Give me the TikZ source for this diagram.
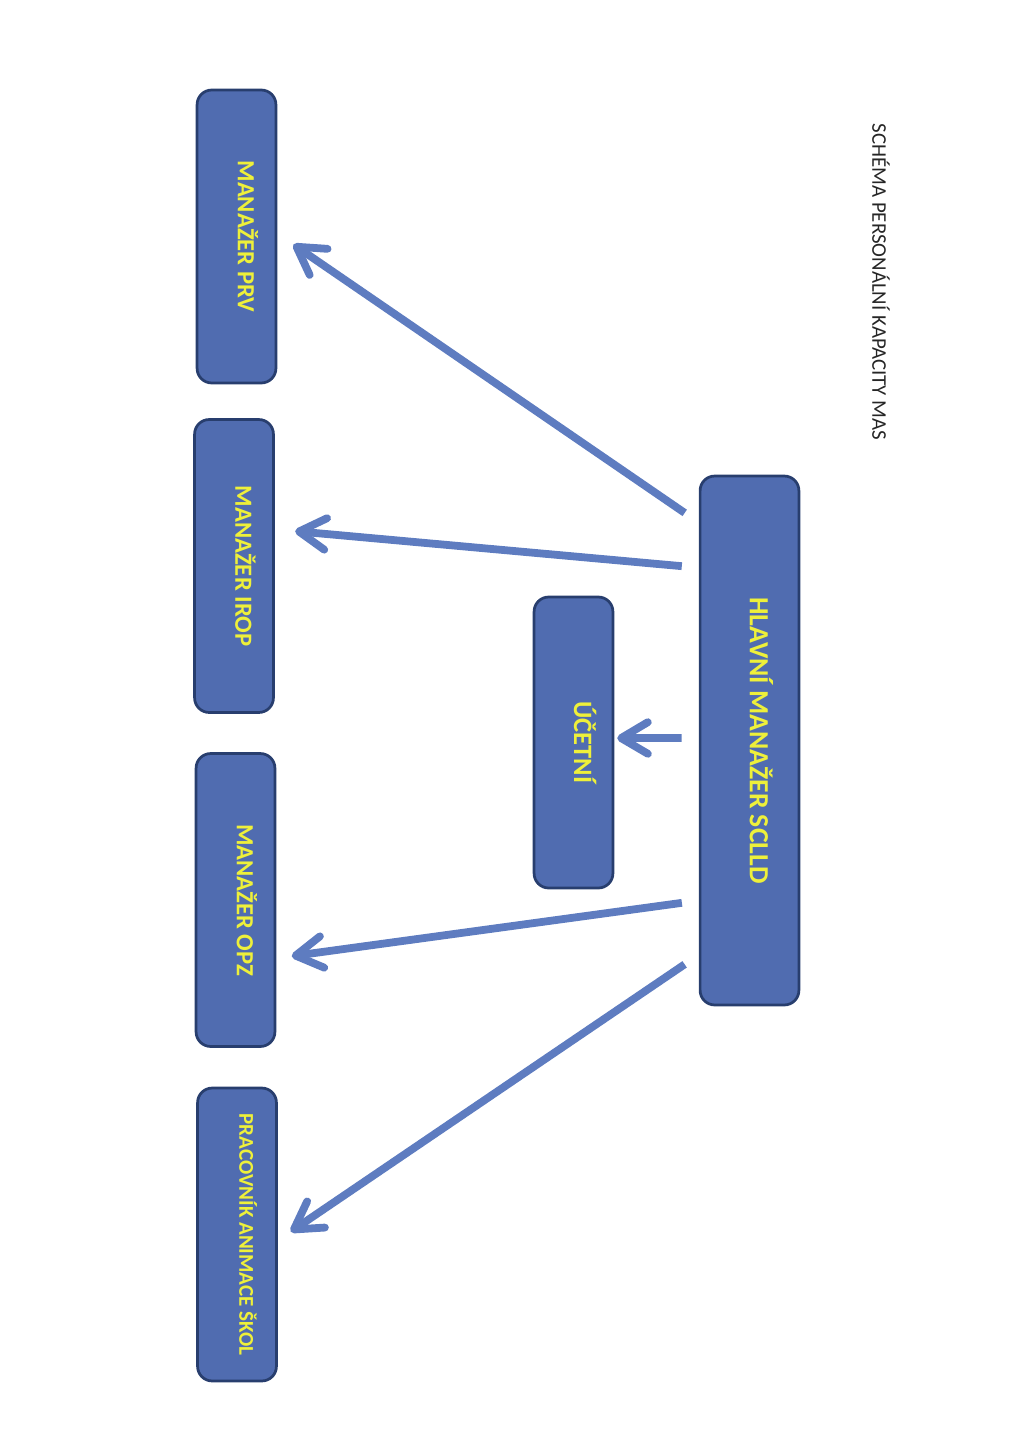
\documentclass[tikz,border=0pt]{standalone}
\usepackage{fontspec}
\setmainfont{Carlito}
\usetikzlibrary{arrows.meta,calc}
\definecolor{rolefill}{RGB}{80,108,176}
\definecolor{roleline}{RGB}{40,62,110}
\definecolor{rolefont}{RGB}{238,240,58}
\definecolor{linkblue}{RGB}{94,124,192}
\tikzstyle{role}=[draw=roleline,fill=rolefill,line width=1.6pt,rounded corners=3mm,inner sep=0pt,minimum width=16.2mm,minimum height=60.2mm,text=rolefont]
\tikzstyle{link}=[draw=linkblue,line width=1.6mm,-{Straight Barb[length=5.5mm,width=6.5mm,round]},shorten <=3.5mm]
% rotated label, a little right of the box centre
\newcommand\rolelabel[1]{\hspace{3.8mm}\rotatebox{-90}{\smash{#1}\vphantom{A}}}

\begin{document}
\begin{tikzpicture}[x=0.2055mm,y=-0.2055mm]
    \useasboundingbox (0,0) rectangle (1022,1446);

    \foreach \pos/\name/\label/\size in {{(236.5,236.5)/prv/MANAŽER PRV/14.4},{(234,566)/irop/MANAŽER IROP/14.4},{(235.5,900)/opz/MANAŽER OPZ/14.4},{(237,1234.5)/skol/PRACOVNÍK ANIMACE ŠKOL/12.3}}
        \node[role,font=\fontsize{\size}{16}\selectfont\bfseries] (\name) at \pos {\rolelabel{\label}};

    \node[role,minimum height=59.8mm,font=\fontsize{15.5}{17}\selectfont\bfseries] (uct) at (573.5,742.5) {\rolelabel{ÚČETNÍ}};
    \node[role,minimum width=20.3mm,minimum height=108.7mm,font=\fontsize{16.2}{18}\selectfont\bfseries] (main) at (749.5,740.5) {\rolelabel{HLAVNÍ MANAŽER SCLLD}};

    % arrows from the main manager
    \foreach \from/\dest/\to/\gap in {0.09/prv/0.49/4mm, 0.175/irop/0.376/4.2mm, 0.495/uct/0.485/0.6mm, 0.801/opz/0.697/3.2mm, 0.903/skol/0.52/3.2mm}
        \path[link,shorten >=\gap] ($(main.north west)!\from!(main.south west)$) -- ($(\dest.north east)!\to!(\dest.south east)$);

    \node[rotate=-90,font=\fontsize{12.2}{14}\selectfont,text=black!85] (title) at (881,282) {SCHÉMA PERSONÁLNÍ KAPACITY MAS};
\end{tikzpicture}
\end{document}
